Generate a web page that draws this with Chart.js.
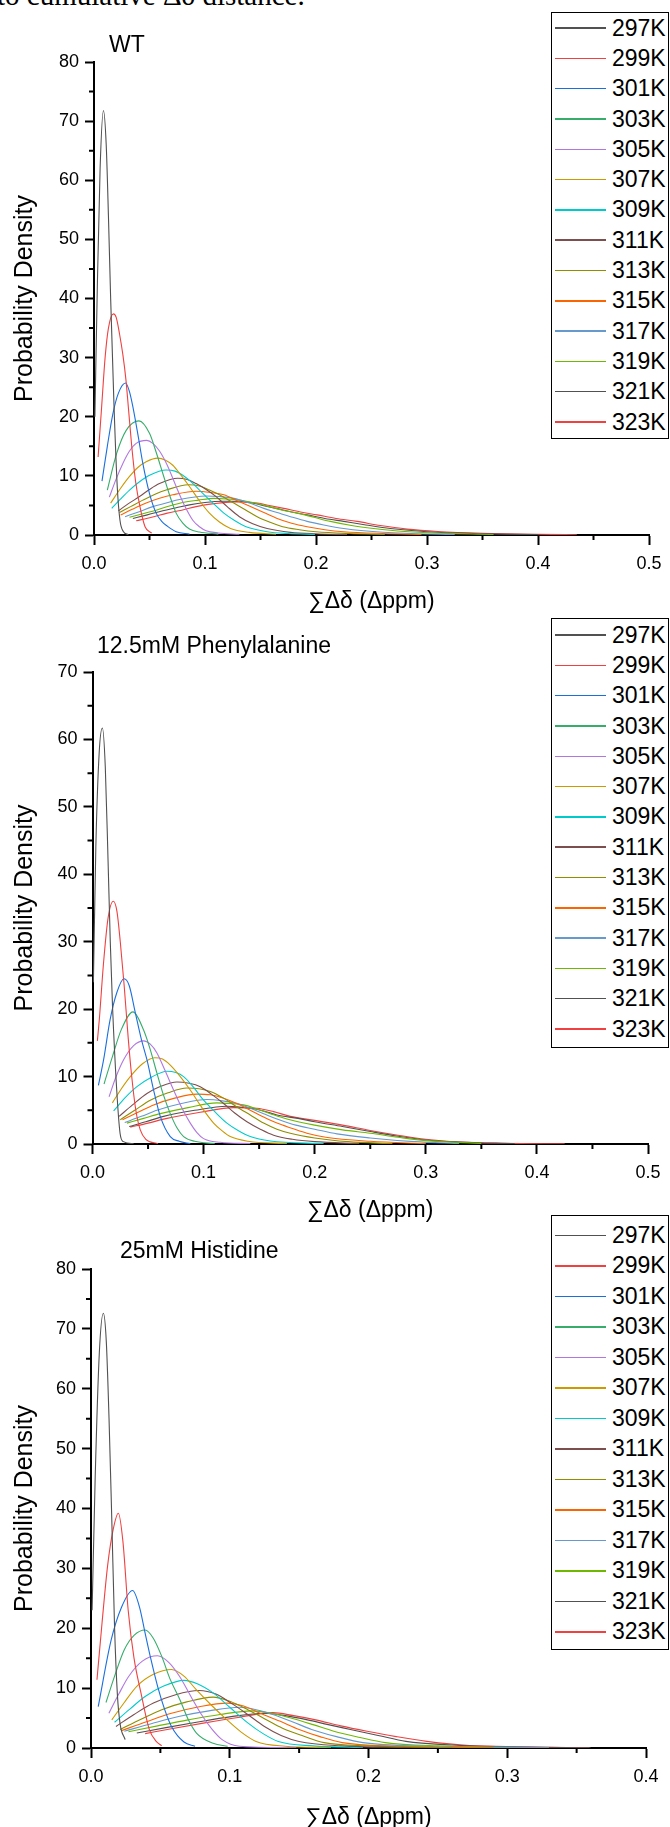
<!DOCTYPE html>
<html>
<head>
<meta charset="utf-8">
<script src="https://cdn.jsdelivr.net/npm/chart.js@4.4.1/dist/chart.umd.min.js"></script>
<style>
  html, body { margin: 0; padding: 0; background: #fff; }
  body { width: 670px; height: 1827px; position: relative; overflow: hidden; }
  canvas { position: absolute; left: 0; }
  .caption { position: absolute; left: -3px; top: -19px; font: 29px 'Liberation Serif', 'Times New Roman', serif; line-height: 29px; white-space: nowrap; }
  .ptitle { position: absolute; font: 23px 'Liberation Sans', Arial, sans-serif; line-height: 23px; white-space: nowrap; }
  .legend { position: absolute; left: 551px; width: 116px; border: 1px solid #000; background: #fff; }
  .legend .row { display: flex; align-items: center; }
  .legend .swatch { width: 51px; height: 1.5px; margin-left: 3px; margin-right: 6px; }
  .legend .txt { font: 23px 'Liberation Sans', Arial, sans-serif; line-height: 1; }
</style>
</head>
<body>
<div class="caption">to cumulative Δδ distance.</div>

<canvas id="wtChart" width="670" height="615" style="top:0px"></canvas>
<canvas id="pheChart" width="670" height="610" style="top:615px"></canvas>
<canvas id="hisChart" width="670" height="610" style="top:1225px"></canvas>

<div class="ptitle" style="left:109px; top:32.5px">WT</div>
<div class="ptitle" style="left:97px; top:633.5px">12.5mM Phenylalanine</div>
<div class="ptitle" style="left:120px; top:1238.5px">25mM Histidine</div>

<div class="legend" id="wtLegend" style="top:12px; padding:0 0 1px"></div>
<div class="legend" id="pheLegend" style="top:618px; padding:1px 0 3px"></div>
<div class="legend" id="hisLegend" style="top:1215px; padding:4px 0 2px"></div>

<script>
// legend labels and line colours (Origin default palette)
const temps = ['297K', '299K', '301K', '303K', '305K', '307K', '309K', '311K', '313K', '315K', '317K', '319K', '321K', '323K'];
const lineColors = ['#515151', '#F14040', '#1A6FDF', '#37AD6B', '#B177DE', '#CC9900', '#00CBCC',
                    '#7D4E4E', '#8E8E00', '#FB6501', '#6699CC', '#6FB802', '#515151', '#F14040'];

// WT: [sum delta (ppm), probability density] for each temperature
const wtCurves = [
  [[0.0008,20],[0.003,42],[0.0055,62],[0.0085,71.8],[0.011,66],[0.013,54],[0.015,40],[0.018,22],[0.021,8],[0.0234,2.5],[0.0264,0.6],[0.031,0.05]],
  [[0.0037,13.2],[0.007,22],[0.010,30],[0.013,35],[0.0175,37.4],[0.020,36.8],[0.023,34],[0.026,30.5],[0.0288,26.2],[0.031,21.5],[0.034,15],[0.0375,9],[0.0414,4.8],[0.046,1.4],[0.052,0.3]],
  [[0.0072,9.1],[0.012,15],[0.017,20.5],[0.022,24],[0.0285,25.7],[0.032,24.2],[0.035,21.7],[0.040,16.5],[0.044,12.1],[0.050,7],[0.056,3.7],[0.061,2.3],[0.066,1.5],[0.074,0.56],[0.086,0.15]],
  [[0.012,7.6],[0.0204,13.8],[0.029,17.7],[0.0405,19.3],[0.050,17.2],[0.056,14],[0.062,10.4],[0.068,6.8],[0.074,3.7],[0.080,2],[0.086,1.0],[0.095,0.5],[0.112,0.15]],
  [[0.0138,6.4],[0.020,9.5],[0.026,12.1],[0.032,14.2],[0.038,15.5],[0.0475,16.0],[0.053,15.5],[0.059,14.2],[0.066,11.8],[0.074,8.2],[0.081,5.2],[0.089,2.5],[0.095,1.4],[0.101,0.73],[0.112,0.35],[0.131,0.12]],
  [[0.015,5.4],[0.024,7.9],[0.032,9.9],[0.040,11.5],[0.047,12.4],[0.0575,13.0],[0.064,12.7],[0.071,11.8],[0.078,10.2],[0.086,8.2],[0.095,5.8],[0.104,3.7],[0.113,2.2],[0.123,1.1],[0.14,0.45],[0.164,0.12]],
  [[0.016,4.5],[0.024,6.1],[0.032,7.6],[0.041,9.0],[0.050,10.1],[0.065,11.0],[0.073,10.8],[0.080,10.1],[0.088,8.9],[0.095,7.6],[0.106,5.6],[0.117,3.7],[0.127,2.4],[0.137,1.4],[0.156,0.56],[0.175,0.25],[0.199,0.1]],
  [[0.022,4.1],[0.031,5.3],[0.041,6.5],[0.050,7.7],[0.059,8.7],[0.0755,9.6],[0.084,9.4],[0.092,8.7],[0.101,7.7],[0.110,6.5],[0.120,4.8],[0.131,3.1],[0.143,1.9],[0.156,1.1],[0.177,0.45],[0.20,0.2],[0.228,0.08]],
  [[0.023,3.8],[0.033,4.8],[0.044,5.9],[0.055,6.9],[0.065,7.6],[0.085,8.5],[0.095,8.3],[0.104,7.6],[0.115,6.6],[0.126,5.4],[0.137,4.2],[0.147,3.1],[0.158,2.2],[0.170,1.4],[0.185,0.9],[0.20,0.56],[0.23,0.25],[0.262,0.08]],
  [[0.024,3.4],[0.035,4.4],[0.047,5.4],[0.059,6.2],[0.071,6.8],[0.092,7.4],[0.105,7.2],[0.117,6.8],[0.129,5.8],[0.141,4.8],[0.153,3.8],[0.165,2.8],[0.178,2.0],[0.192,1.4],[0.208,0.9],[0.225,0.56],[0.26,0.25],[0.295,0.08]],
  [[0.028,3.1],[0.040,3.9],[0.053,4.8],[0.065,5.4],[0.077,6.0],[0.101,6.6],[0.113,6.5],[0.126,6.2],[0.14,5.4],[0.153,4.5],[0.165,3.8],[0.177,3.1],[0.192,2.3],[0.207,1.7],[0.225,1.1],[0.243,0.73],[0.28,0.3],[0.325,0.08]],
  [[0.032,3.0],[0.044,3.6],[0.056,4.2],[0.068,4.9],[0.080,5.5],[0.094,5.9],[0.108,6.2],[0.120,6.1],[0.131,5.9],[0.145,5.4],[0.158,4.8],[0.170,4.2],[0.183,3.7],[0.198,3.0],[0.213,2.3],[0.232,1.6],[0.252,1.1],[0.28,0.6],[0.32,0.25],[0.36,0.08]],
  [[0.035,2.8],[0.048,3.4],[0.062,4.1],[0.074,4.6],[0.086,5.1],[0.100,5.5],[0.116,5.7],[0.128,5.7],[0.141,5.5],[0.152,5.0],[0.164,4.5],[0.178,3.9],[0.192,3.4],[0.208,2.8],[0.225,2.3],[0.245,1.7],[0.267,1.1],[0.30,0.55],[0.35,0.22],[0.40,0.06]],
  [[0.038,2.4],[0.052,3.0],[0.066,3.7],[0.079,4.2],[0.092,4.8],[0.108,5.3],[0.126,5.6],[0.137,5.55],[0.147,5.4],[0.158,5.0],[0.171,4.5],[0.186,3.9],[0.201,3.4],[0.218,2.8],[0.237,2.3],[0.258,1.6],[0.282,1.0],[0.31,0.6],[0.35,0.3],[0.40,0.12],[0.435,0.05]]
];

// 12.5mM Phenylalanine
const pheCurves = [
  [[0.0008,24],[0.003,44],[0.006,58],[0.0089,61.7],[0.0115,56],[0.014,42],[0.016,30],[0.018,20.5],[0.0218,8],[0.0248,1.6],[0.0278,0.35],[0.037,0.05]],
  [[0.0044,15.3],[0.0061,18.4],[0.010,27],[0.014,33.5],[0.0188,36],[0.022,34.5],[0.025,30],[0.0285,23.5],[0.032,16],[0.035,10.5],[0.039,5],[0.043,2.1],[0.048,0.7],[0.059,0.05]],
  [[0.0053,8.7],[0.010,12.5],[0.0158,18.4],[0.022,22.5],[0.0284,24.5],[0.033,23.5],[0.0385,19.5],[0.044,15.5],[0.049,12.5],[0.055,8],[0.061,4.1],[0.070,1.1],[0.078,0.4],[0.088,0.05]],
  [[0.0104,8.9],[0.018,13],[0.026,17],[0.0365,19.6],[0.046,16.9],[0.052,14],[0.058,10.5],[0.064,7.2],[0.070,4.5],[0.076,2.4],[0.082,1.1],[0.092,0.4],[0.110,0.05]],
  [[0.0149,7.0],[0.021,9.9],[0.028,12.5],[0.037,14.6],[0.046,15.3],[0.052,14.8],[0.058,13.5],[0.065,11],[0.073,8],[0.080,5.5],[0.088,3.1],[0.094,1.7],[0.100,0.8],[0.115,0.25],[0.142,0.05]],
  [[0.0179,6.1],[0.026,8.2],[0.034,10],[0.045,11.9],[0.056,12.8],[0.063,12.6],[0.070,11.7],[0.079,10],[0.088,8],[0.098,5.5],[0.109,3.1],[0.117,1.9],[0.124,1.1],[0.14,0.4],[0.175,0.05]],
  [[0.019,4.9],[0.029,6.8],[0.040,8.5],[0.053,9.9],[0.067,10.8],[0.075,10.6],[0.082,10],[0.091,8.4],[0.100,6.5],[0.110,4.8],[0.121,3.1],[0.131,2],[0.142,1.1],[0.16,0.45],[0.208,0.05]],
  [[0.024,4.1],[0.036,5.8],[0.049,7.5],[0.062,8.6],[0.076,9.2],[0.087,9],[0.097,8.5],[0.107,7.4],[0.118,6],[0.128,4.6],[0.139,3.3],[0.151,2.2],[0.163,1.3],[0.18,0.7],[0.20,0.35],[0.24,0.05]],
  [[0.025,3.6],[0.038,5],[0.052,6.5],[0.068,7.6],[0.085,8.3],[0.096,8.2],[0.106,7.8],[0.118,6.8],[0.130,5.5],[0.142,4.3],[0.154,3.1],[0.166,2.2],[0.178,1.6],[0.20,0.9],[0.23,0.35],[0.27,0.05]],
  [[0.027,3.6],[0.041,4.7],[0.055,5.8],[0.074,6.8],[0.094,7.4],[0.106,7.3],[0.118,6.8],[0.130,6],[0.142,5],[0.154,4],[0.166,3.1],[0.18,2.3],[0.193,1.6],[0.21,1.0],[0.25,0.4],[0.30,0.05]],
  [[0.029,3.2],[0.044,4.1],[0.058,5.0],[0.080,6],[0.103,6.6],[0.117,6.4],[0.130,6.0],[0.142,5.3],[0.154,4.5],[0.168,3.6],[0.183,2.8],[0.20,2.2],[0.22,1.5],[0.25,0.9],[0.29,0.35],[0.33,0.05]],
  [[0.031,3.1],[0.046,3.8],[0.061,4.5],[0.086,5.4],[0.112,6.1],[0.124,6.0],[0.136,5.8],[0.148,5.2],[0.160,4.5],[0.175,3.7],[0.20,2.8],[0.225,2.1],[0.25,1.6],[0.275,1],[0.30,0.5],[0.35,0.1]],
  [[0.033,2.6],[0.048,3.3],[0.064,4.1],[0.092,5],[0.121,5.6],[0.142,5.3],[0.154,4.9],[0.166,4.3],[0.185,3.8],[0.20,3.3],[0.225,2.6],[0.25,1.85],[0.275,1.15],[0.30,0.6],[0.33,0.3],[0.38,0.05]],
  [[0.034,2.5],[0.050,3.1],[0.067,3.8],[0.097,4.7],[0.127,5.4],[0.148,5.3],[0.163,4.8],[0.178,4.1],[0.20,3.5],[0.225,2.8],[0.25,2.0],[0.275,1.3],[0.30,0.7],[0.33,0.3],[0.37,0.1],[0.425,0.03]]
];

// 25mM Histidine
const hisCurves = [
  [[0.0008,23],[0.003,45],[0.006,66],[0.0089,72.6],[0.011,68],[0.013,55],[0.015,38],[0.017,20],[0.019,9],[0.021,4],[0.0246,1.4]],
  [[0.0043,11.4],[0.008,21],[0.012,30.5],[0.016,36.5],[0.0197,39.2],[0.023,34.5],[0.0268,23],[0.031,15],[0.036,9.2],[0.042,3.1],[0.047,1.1],[0.051,0.4]],
  [[0.0052,6.9],[0.0145,18],[0.022,23.5],[0.030,26.3],[0.035,23.5],[0.039,19.2],[0.043,15],[0.048,10.3],[0.053,6.5],[0.058,3.6],[0.067,1.0],[0.075,0.3]],
  [[0.0108,7.6],[0.017,12],[0.024,16.4],[0.031,18.8],[0.039,19.7],[0.045,18.3],[0.051,15.3],[0.057,11.5],[0.064,8.1],[0.070,4.8],[0.076,2.5],[0.088,0.8],[0.0985,0.3]],
  [[0.0129,5.8],[0.020,9],[0.027,11.9],[0.037,14.5],[0.048,15.4],[0.056,14.3],[0.064,11.9],[0.072,8.6],[0.079,5.8],[0.087,3.2],[0.0945,1.4],[0.107,0.3],[0.148,0.05]],
  [[0.015,4.7],[0.024,7.6],[0.033,10.3],[0.045,12.3],[0.058,13.1],[0.067,12],[0.076,9.7],[0.087,7.1],[0.098,4.7],[0.108,2.7],[0.119,1.1],[0.14,0.3],[0.173,0.05]],
  [[0.017,4.3],[0.028,6.5],[0.039,8.6],[0.052,10.3],[0.067,11.3],[0.077,10.7],[0.088,9.2],[0.100,6.8],[0.113,4.2],[0.124,2.4],[0.135,1.1],[0.16,0.35],[0.196,0.05]],
  [[0.018,3.6],[0.031,5.6],[0.045,7.5],[0.061,8.9],[0.078,9.6],[0.090,9],[0.101,7.5],[0.113,5.6],[0.125,3.6],[0.137,2.1],[0.150,1.1],[0.18,0.35],[0.23,0.05]],
  [[0.021,3.1],[0.036,4.8],[0.051,6.4],[0.069,7.7],[0.088,8.5],[0.100,7.8],[0.113,6.4],[0.125,4.9],[0.138,3.3],[0.153,2.0],[0.168,0.9],[0.20,0.35],[0.26,0.05]],
  [[0.022,2.9],[0.040,4.4],[0.058,5.8],[0.078,6.9],[0.098,7.5],[0.110,7],[0.122,5.8],[0.136,4.5],[0.150,3.1],[0.165,1.9],[0.181,0.9],[0.22,0.3],[0.29,0.05]],
  [[0.024,2.8],[0.044,4.1],[0.064,5.3],[0.085,6.2],[0.107,6.8],[0.119,6.4],[0.131,5.6],[0.145,4.4],[0.159,3.1],[0.177,1.9],[0.196,0.9],[0.24,0.3],[0.33,0.05]],
  [[0.027,2.7],[0.048,3.7],[0.070,4.7],[0.093,5.6],[0.116,6.2],[0.130,5.8],[0.144,5.0],[0.160,3.9],[0.175,2.8],[0.193,1.8],[0.212,0.9],[0.25,0.35],[0.33,0.05]],
  [[0.033,2.5],[0.054,3.4],[0.076,4.3],[0.100,5.2],[0.125,5.8],[0.140,5.4],[0.156,4.7],[0.171,3.9],[0.187,3.1],[0.207,2.1],[0.227,1.1],[0.26,0.5],[0.30,0.2],[0.36,0.05]],
  [[0.039,2.4],[0.060,3.3],[0.082,4.2],[0.106,5.1],[0.131,5.9],[0.146,5.4],[0.162,4.7],[0.180,3.7],[0.199,2.8],[0.22,1.9],[0.242,1.1],[0.273,0.4],[0.31,0.2],[0.359,0.05]]
];

Chart.defaults.font.family = "'Liberation Sans', Arial, sans-serif";
Chart.defaults.color = '#000';

// short minor ticks half way between the major ones
const minorTicks = {
  id: 'minorTicks',
  afterDraw(chart) {
    const { ctx, scales: { x, y } } = chart;
    ctx.save();
    ctx.strokeStyle = '#000';
    ctx.lineWidth = 2;
    ctx.beginPath();
    for (let i = 1; i < x.ticks.length; i++) {
      const px = x.getPixelForValue((x.ticks[i - 1].value + x.ticks[i].value) / 2);
      ctx.moveTo(px, x.top);
      ctx.lineTo(px, x.top + 5);
    }
    for (let i = 1; i < y.ticks.length; i++) {
      const py = y.getPixelForValue((y.ticks[i - 1].value + y.ticks[i].value) / 2);
      ctx.moveTo(y.right, py);
      ctx.lineTo(y.right - 5, py);
    }
    ctx.stroke();
    ctx.restore();
  }
};

function makeChart(id, curves, opts) {
  const ctx = document.getElementById(id).getContext('2d');
  return new Chart(ctx, {
    type: 'line',
    data: {
      datasets: curves.map((pts, i) => ({
        label: temps[i],
        data: pts.map(([x, y]) => ({ x, y })),
        borderColor: lineColors[i],
        borderWidth: 1.1,
        pointRadius: 0,
        cubicInterpolationMode: 'monotone',
        fill: false
      }))
    },
    options: {
      responsive: false,
      animation: false,
      events: [],
      layout: { padding: { top: opts.top, right: opts.right, left: 0, bottom: 0 } },
      plugins: { legend: { display: false }, tooltip: { enabled: false } },
      scales: {
        x: {
          type: 'linear',
          min: 0,
          max: opts.xMax,
          border: { color: '#000', width: 2 },
          grid: { drawOnChartArea: false, tickLength: 10, tickWidth: 2, tickColor: '#000' },
          ticks: { stepSize: 0.1, padding: 8, font: { size: 18 }, maxRotation: 0, callback: v => v.toFixed(1) },
          title: { display: true, text: '∑Δδ (Δppm)', font: { size: 23 }, padding: { top: 0, bottom: opts.titlePad } },
          afterFit: s => { s.height = opts.xHeight; }
        },
        y: {
          min: 0,
          max: opts.yMax,
          border: { color: '#000', width: 2 },
          grid: { drawOnChartArea: false, tickLength: 9, tickWidth: 2, tickColor: '#000' },
          ticks: { stepSize: 10, padding: 6, font: { size: 18 } },
          title: { display: true, text: 'Probability Density', font: { size: 25 }, padding: { top: 10, bottom: 0 } },
          afterFit: s => { s.width = opts.yWidth; }
        }
      }
    },
    plugins: [minorTicks]
  });
}

// legend box built from the chart's own legend items
function buildLegend(chart, elId, rowHeight) {
  const box = document.getElementById(elId);
  const items = chart.options.plugins.legend.labels.generateLabels(chart);
  items.forEach(item => {
    const row = document.createElement('div');
    row.className = 'row';
    row.style.height = rowHeight + 'px';
    const swatch = document.createElement('span');
    swatch.className = 'swatch';
    swatch.style.background = item.strokeStyle;
    const txt = document.createElement('span');
    txt.className = 'txt';
    txt.textContent = item.text;
    row.append(swatch, txt);
    box.appendChild(row);
  });
}

const wtChart = makeChart('wtChart', wtCurves, { xMax: 0.5, yMax: 80, top: 62, right: 21, yWidth: 94, xHeight: 80, titlePad: 0 });
const pheChart = makeChart('pheChart', pheCurves, { xMax: 0.5, yMax: 70, top: 57, right: 22, yWidth: 92.5, xHeight: 81, titlePad: 1 });
const hisChart = makeChart('hisChart', hisCurves, { xMax: 0.4, yMax: 80, top: 44, right: 24, yWidth: 91, xHeight: 87, titlePad: 4 });

buildLegend(wtChart, 'wtLegend', 30.3);
buildLegend(pheChart, 'pheLegend', 30.3);
buildLegend(hisChart, 'hisLegend', 30.5);
</script>
</body>
</html>
